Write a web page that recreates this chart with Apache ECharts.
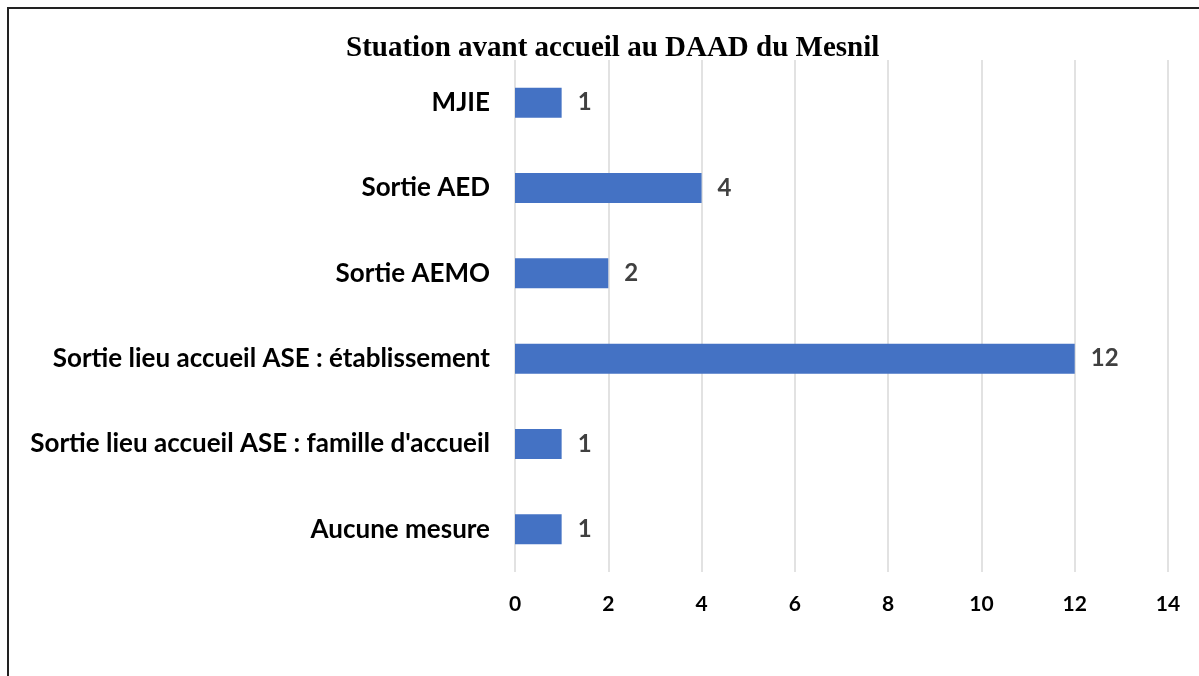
<!DOCTYPE html>
<html>
<head>
<meta charset="utf-8">
<script src="https://cdn.jsdelivr.net/npm/echarts@6/dist/echarts.min.js"></script>
<style>
  html, body { margin: 0; padding: 0; background: #fff; }
  #frame { position: absolute; left: 7px; top: 7px; width: 1300px; height: 800px;
           border-left: 2px solid #222; border-top: 2px solid #222; }
  #chart { position: absolute; left: 0; top: 0; width: 1199px; height: 676px; }
</style>
</head>
<body>
<div id="frame"></div>
<div id="chart"></div>
<script>
// categories, top to bottom
var categories = [
  'MJIE',
  'Sortie AED',
  'Sortie AEMO',
  'Sortie lieu accueil ASE : établissement',
  "Sortie lieu accueil ASE : famille d'accueil",
  'Aucune mesure'
];
var counts = [1, 4, 2, 12, 1, 1];
var xTicks = [0, 2, 4, 6, 8, 10, 12, 14];

var chart = echarts.init(document.getElementById('chart'));
chart.setOption({
  animation: false,
  title: {
    text: 'Stuation avant accueil au DAAD du Mesnil',
    left: 341,
    top: 29,
    textStyle: { fontFamily: 'Liberation Serif', fontWeight: 'bold', fontSize: 29, color: '#000' }
  },
  grid: { left: 515, right: 31, top: 60, bottom: 104 },
  xAxis: {
    type: 'value',
    min: xTicks[0],
    max: xTicks[xTicks.length - 1],
    interval: 2,
    axisLine: { show: false },
    axisTick: { show: false },
    splitLine: { lineStyle: { color: '#d9d9d9', width: 1.5 } },
    axisLabel: { margin: 22, fontFamily: 'Lato', fontWeight: 'bold', fontSize: 21, color: '#000' }
  },
  yAxis: {
    type: 'category',
    data: categories,
    inverse: true,
    axisLine: { show: false },
    axisTick: { show: false },
    axisLabel: { margin: 25, fontFamily: 'Lato', fontWeight: 'bold', fontSize: 26, color: '#000' }
  },
  series: [{
    type: 'bar',
    data: counts,
    barWidth: 30,
    itemStyle: { color: '#4472c4' },
    label: {
      show: true,
      position: 'right',
      distance: 16,
      fontFamily: 'Lato',
      fontWeight: 'bold',
      fontSize: 24,
      color: '#404040'
    }
  }]
});
</script>
</body>
</html>
